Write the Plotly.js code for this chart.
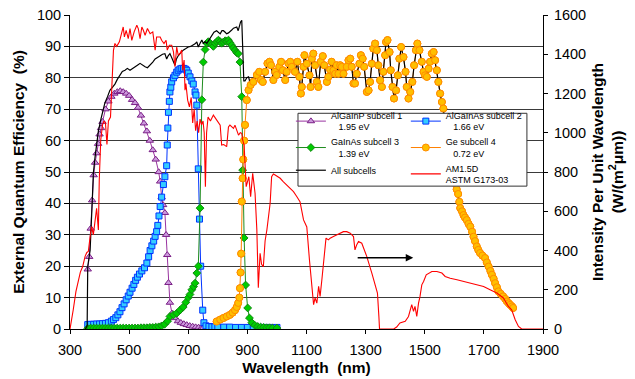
<!DOCTYPE html>
<html>
<head>
<meta charset="utf-8">
<script src="https://cdn.plot.ly/plotly-3.0.1.min.js"></script>
<style>html,body{margin:0;padding:0;background:#fff;}#chart{width:635px;height:379px;}</style>
</head>
<body>
<div id="chart"></div>
<script>
// ---- Data ----
// AlGaInP subcell 1 (EQE %)
const wlSub1 = [360,365,370,375,380,385,390,395,400,405,410,420,430,440,450,460,470,480,490,500,510,520,530,540,550,560,570,580,590,600,605,610,615,621,625,629,633,638,645,655,665,675,685,695,705,715,725,735,745,750];
const eqeSub1 = [19,23,32,41,49,53,56,59,62,64,66,70,72.5,74,75,75.5,75.8,75.5,75,74.3,73,72,70.5,68,65.5,63,60,57,54,50,47,42,39.5,37,30,23.6,14.7,8.4,5,3.5,2.5,2,1.6,1.3,1,0.8,0.6,0.5,0.4,0.3];

// AlGaInAs subcell 2
const wlSub2 = [360,370,380,390,400,410,420,430,440,447,455,462,469,476,483,490,497,503,510,516,522,528,535,543,552,560,566,571,577,583,588,593,597,601,605,610,616,621,627,629,631,633,636,638,641,644,650,655,661,666,672,678,684,690,695,700,706,712,717,723,726,729,734,738,742,749,753,760,770,780,790,800,820,840,860,880,900,920,940,960,980,1000];
const eqeSub2 = [1.4,1.5,1.5,1.6,1.6,1.7,1.8,2,2.5,3,3.6,4.5,5.5,6.8,8,9.3,10.5,11.7,13,14.2,15.5,16.5,17.5,18.5,19.5,21,23,25,26.5,28,29.5,31,33,36,39,42,46,48.5,52,58.6,64,69,72.5,75.5,77,78.7,80,80.8,81.8,82.4,82.8,83,83,82.8,82.4,81.5,80.3,79,78,75.5,74.5,71.3,51,35,20,6,2,1,0.8,0.7,0.7,0.6,0.6,0.6,0.5,0.5,0.5,0.5,0.5,0.5,0.5,0.5];

// GaInAs subcell 3
const wlSub3 = [360,370,380,390,400,410,420,430,440,450,460,470,480,490,500,510,520,530,540,550,560,570,580,590,600,610,620,630,638,650,661,672,683,692,700,706,712,718,723,729,734,740,746,751,757,763,768,774,780,785,791,797,802,808,813,819,825,830,836,841,847,852,858,864,869,875,881,884,889,894,901,907,915,925,935,945,955,965,975,985,1000];
const eqeSub3 = [0.2,0.3,0.3,0.3,0.3,0.3,0.3,0.3,0.3,0.3,0.3,0.3,0.3,0.3,0.3,0.3,0.3,0.3,0.4,0.4,0.4,0.5,0.5,0.6,0.7,1.0,1.5,2.5,4,4.5,5,6,7,8.5,10,11,12.5,13.5,14.6,17.8,20,38.5,73,85,89,91,91.5,91,90.5,90,91,91.5,92,91.5,91,91.4,91.8,91.6,92,91.2,90.4,89.5,88.8,88,87.7,85,74,50.6,29,14,6.7,3.5,2,1.2,0.8,0.6,0.5,0.4,0.4,0.3,0.3];

// Ge subcell 4
const wlSub4 = [796,808,819,830,841,850,858,864,869,873,875,877,879,881,884,886,889,892,898,904,911,920,932,940,946,952,960,968,975,980,988,994,999,1008,1014,1020,1028,1033,1039,1045,1050,1061,1069,1076,1081,1084,1090,1093,1101,1110,1114,1118,1123,1129,1135,1140,1148,1155,1160,1169,1174,1180,1185,1191,1197,1202,1208,1214,1219,1225,1236,1242,1248,1253,1259,1264,1270,1279,1284,1290,1295,1304,1310,1315,1321,1326,1332,1338,1343,1349,1355,1360,1366,1369,1374,1381,1385,1391,1396,1403,1409,1414,1420,1428,1435,1439,1445,1451,1458,1464,1470,1475,1482,1490,1496,1501,1507,1513,1518,1524,1530,1535,1541,1546,1552,1558,1563,1570,1578,1585,1592,1598,1603,1608,1613,1617,1620,1626,1631,1636,1642,1648,1654,1660,1665,1670,1676,1681,1687,1695,1704,1710,1716,1722,1727,1733,1738,1744,1749,1757,1765,1772,1778,1784,1789,1795,1799];
const eqeSub4 = [2.4,3,3.5,4,4.5,5.2,6,7,8.3,10,13,18,24,40.6,48,54,60,65,72.9,76.1,77.7,78.7,80.9,81.9,79.3,78.7,81.9,84.6,85.1,84,79.3,81.9,80.9,83.5,85.1,82.4,79.3,81.9,84.6,85.1,83.5,81.9,85.1,80.3,75,77.1,83.5,87.2,84.5,80.8,77.1,86.1,87.7,84,78.7,77.1,85.1,86.9,84,78.7,80.3,82.6,85.1,82.4,81.3,84,81.3,84,83.5,81.3,83.5,85.6,86.1,83.5,78.2,78.2,81.3,84.5,87.2,86.1,83.5,75.5,76,78.7,84.5,89.3,90.9,88.8,84,79.2,77.1,81.9,87.2,91.4,92,88.2,82.4,77.1,73.4,76,80.8,86.1,89.8,86.6,81.9,77.1,73.4,75.5,78.7,84,88.8,90.9,88.8,85.1,81.9,80.8,80.3,82.9,85.1,87.7,88.2,85.6,82.4,78.7,75,72.3,70.2,66,61,56,51,48,46.4,44.5,43,40.5,38.5,37.5,36.3,35.5,34.7,33.5,32.6,31,29.4,28,26.3,25.2,24.2,23.4,22.6,21.2,19.9,18.5,17.3,16,14.6,13.3,12,11.2,10.4,9.6,8.8,8.2,7.7,7.2,6.7];

// All subcells (black), explicit up to 904 nm; beyond that it is the Ge curve
const wlAllHead = [352,358,360,368,375,379,385,390,396,405,418,427,435,444,452,460,469,477,486,494,503,511,520,528,537,545,554,562,571,580,588,596,605,613,621,627,632,638,646,655,660,666,675,683,692,700,708,717,723,729,734,740,746,751,757,763,770,778,787,796,802,808,814,819,825,830,836,841,847,853,858,864,869,873,877,881,884,888,892,898,904];
const eqeAllHead = [0,1,20,25,40,49.6,55,59,63,67,72,74,76,77,78,79.5,81,82,82.4,83,82.4,83,83.5,84,84.6,84,83.5,83.2,84,85,86,86.5,87,87.5,87.7,86,87,87.7,86,84,86,87,88,88.8,89.3,89.8,90,90.4,90.8,91.4,89.8,91,92,91,91.5,91,92,93.5,94.5,95,94.5,94,95,95,94.5,94,94.3,94.6,95.2,95.8,96,96.2,95,96.5,97.8,98.3,85.6,79,79,80,80.3];

// AM1.5D ASTM G173-03 spectrum, W/(m2 um)
const wlSun = [300,305,311,320,328,335,343,351,357,362,368,373,379,385,390,396,399,404,410,415,420,425,430,437,442,447,452,458,467,475,480,484,490,497,503,509,517,526,531,537,543,548,554,562,571,580,588,593,605,610,618,625,629,636,644,650,655,661,666,672,678,681,686,689,692,698,704,710,715,720,725,730,735,740,745,750,754,758,762,767,775,785,795,803,808,813,820,830,836,841,847,853,858,864,870,876,881,884,889,892,896,905,911,918,926,932,937,943,948,954,960,966,972,977,982,988,994,1003,1011,1022,1033,1045,1056,1067,1078,1090,1101,1110,1118,1124,1129,1135,1141,1146,1152,1158,1166,1174,1180,1191,1202,1214,1225,1236,1248,1259,1264,1270,1276,1287,1296,1304,1321,1332,1340,1345,1347,1360,1380,1395,1405,1416,1434,1445,1456,1462,1467,1473,1479,1484,1490,1496,1505,1513,1524,1541,1558,1569,1586,1609,1631,1654,1676,1699,1721,1744,1766,1783,1794,1806,1817,1828,1900];
const irrSun = [0,40,98,190,251,290,318,370,390,395,470,522,480,573,615,505,759,963,1040,1060,1050,940,1060,1080,1300,1420,1455,1440,1463,1505,1539,1488,1522,1480,1531,1471,1514,1548,1531,1480,1539,1522,1497,1531,1505,1514,1421,1488,1488,1471,1455,1471,1421,1446,1446,1412,1336,1437,1395,1404,1421,1319,1370,1217,1251,1166,1132,1180,1050,1120,1010,1060,1000,1070,1040,1060,1000,725,1000,1080,1060,1090,1070,1050,1039,937,940,929,1030,1039,1030,1022,1039,1010,988,1000,997,963,937,844,725,776,674,793,692,505,210,386,330,318,450,505,600,641,776,790,785,775,768,750,734,715,700,675,649,556,520,352,200,124,158,132,217,166,251,352,463,454,463,471,480,488,496,496,488,471,403,430,446,437,400,369,285,217,183,60,0,0,0,0,10,31,39,64,124,90,115,64,132,166,225,242,276,285,293,293,285,268,259,251,242,234,225,217,200,183,158,115,98,47,13,0,0];

const legendNames = [
  'AlGaInP subcell 1<br>\u00a0\u00a0\u00a01.95 eV',
  'AlGaInAs subcell 2<br>\u00a0\u00a0\u00a01.66 eV',
  'GaInAs subcell 3<br>\u00a0\u00a0\u00a01.39 eV',
  'Ge subcell 4<br>\u00a0\u00a0\u00a00.72 eV',
  'All subcells',
  'AM1.5D<br>ASTM G173-03'
];

// All-subcells curve: head + Ge tail (above ~905 nm only Ge contributes)
const wlAll = wlAllHead.concat(wlSub4.filter(w => w > 905));
const eqeAll = eqeAllHead.concat(eqeSub4.filter((v, i) => wlSub4[i] > 905));

const FONT = 'Liberation Sans, Arial, sans-serif';
const geMarker = {symbol: 'circle', size: 7, color: '#FFBF00', line: {color: '#FF8C00', width: 1}};

const traces = [
  {x: wlSub1, y: eqeSub1, name: legendNames[0], legend: 'legend', legendrank: 1, type: 'scatter', mode: 'lines+markers',
   line: {color: '#9933A0', width: 1},
   marker: {symbol: 'triangle-up', size: 6.5, color: '#CC99DD', line: {color: '#7A1F86', width: 1}}},
  {x: wlSub2, y: eqeSub2, name: legendNames[1], legend: 'legend2', legendrank: 1, type: 'scatter', mode: 'lines+markers',
   line: {color: '#0033FF', width: 1},
   marker: {symbol: 'square', size: 6, color: '#33CCFF', line: {color: '#0033FF', width: 1}}},
  {x: wlSub3, y: eqeSub3, name: legendNames[2], legend: 'legend', legendrank: 2, type: 'scatter', mode: 'lines+markers',
   line: {color: '#1E8C1E', width: 1},
   marker: {symbol: 'diamond', size: 6, color: '#00CC00', line: {color: '#118811', width: 1}}},
  {x: wlSub4, y: eqeSub4, name: legendNames[3], legend: 'legend2', legendrank: 2, type: 'scatter', mode: 'lines+markers',
   line: {color: '#FF8000', width: 1}, marker: geMarker},
  {x: wlAll, y: eqeAll, name: legendNames[4], legend: 'legend', legendrank: 3, type: 'scatter', mode: 'lines',
   line: {color: '#000000', width: 1.2}},
  {x: wlSub4, y: eqeSub4, showlegend: false, type: 'scatter', mode: 'markers', marker: geMarker},
  {x: wlSun, y: irrSun, name: legendNames[5], legend: 'legend2', legendrank: 3, yaxis: 'y2', type: 'scatter', mode: 'lines',
   line: {color: '#FF0000', width: 1.1}}
];

const legendCommon = {
  orientation: 'v', xanchor: 'left', yanchor: 'top', traceorder: 'normal',
  font: {family: FONT, size: 9}, bgcolor: 'rgba(0,0,0,0)', borderwidth: 0
};

const layout = {
  width: 635, height: 379,
  margin: {l: 70, r: 92, t: 15, b: 50},
  paper_bgcolor: '#ffffff', plot_bgcolor: '#ffffff',
  font: {family: FONT, color: '#000', size: 14},
  showlegend: true,
  xaxis: {
    range: [300, 1900], tick0: 300, dtick: 200, ticks: 'outside', ticklen: 4, tickcolor: '#000',
    showline: true, linecolor: '#000', linewidth: 1, showgrid: false, zeroline: false,
    tickfont: {family: FONT, size: 14.5}, ticklabelstandoff: 4,
    title: {text: '<b>Wavelength  (nm)</b>', font: {family: FONT, size: 15.5}, standoff: 4}
  },
  yaxis: {
    range: [0, 100], dtick: 10, ticks: 'outside', ticklen: 5, tickcolor: '#000',
    showline: true, linecolor: '#000', linewidth: 1, showgrid: true, gridcolor: '#3a3a3a', gridwidth: 1,
    zeroline: false, tickfont: {family: FONT, size: 14.5},
    title: {text: '<b>External Quantum Efficiency  (%)</b>', font: {family: FONT, size: 15.5}, standoff: 8}
  },
  yaxis2: {
    range: [0, 1600], dtick: 200, overlaying: 'y', side: 'right', ticks: 'outside', ticklen: 4, tickcolor: '#000',
    showline: true, linecolor: '#000', linewidth: 1, showgrid: false, zeroline: false,
    tickfont: {family: FONT, size: 14.5}, ticklabelstandoff: 3,
    title: {text: '<b>Intensity Per Unit Wavelength<br>(W/(m<sup>2</sup>\u03bcm))</b>', font: {family: FONT, size: 15.5}, standoff: 6}
  },
  legend: Object.assign({x: 0.467, y: 0.72}, legendCommon),
  legend2: Object.assign({x: 0.710, y: 0.72}, legendCommon),
  shapes: [{
    type: 'rect', xref: 'paper', yref: 'paper', layer: 'above',
    x0: 0.482, x1: 0.966, y0: 0.455, y1: 0.687,
    fillcolor: '#ffffff', line: {color: '#333333', width: 1}
  }],
  annotations: [{
    xref: 'x', yref: 'y', axref: 'x', ayref: 'y',
    x: 1461, y: 22.7, ax: 1268, ay: 22.7, text: '', showarrow: true,
    arrowhead: 2, arrowsize: 1, arrowwidth: 1.5, arrowcolor: '#000'
  }]
};

Plotly.newPlot('chart', traces, layout, {staticPlot: true, displayModeBar: false});
</script>
</body>
</html>
